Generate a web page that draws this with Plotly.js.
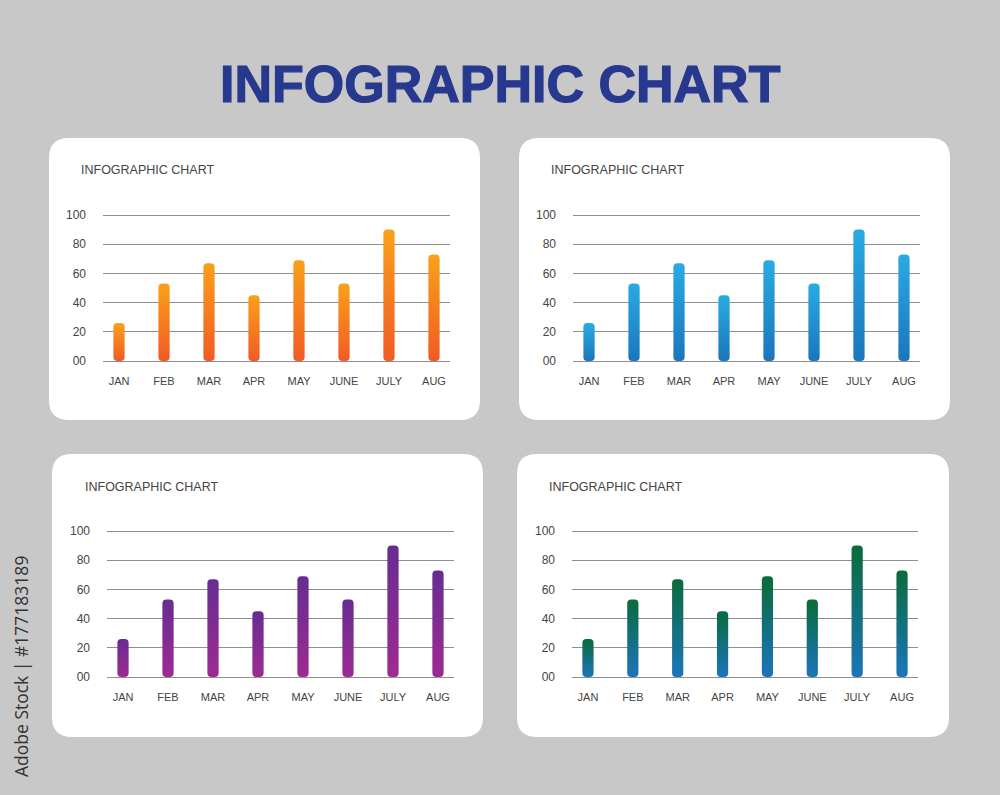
<!DOCTYPE html>
<html>
<head>
<meta charset="utf-8">
<script src="https://cdn.plot.ly/plotly-3.0.1.min.js"></script>
<style>
  html, body { margin: 0; padding: 0; background: #c8c8c8; }
  #chart { width: 1000px; height: 795px; }
</style>
</head>
<body>
<div id="chart"></div>
<script>
// data (all four panels show the same values)
const months = ['JAN', 'FEB', 'MAR', 'APR', 'MAY', 'JUNE', 'JULY', 'AUG'];
const orangeValues = [26, 53, 67, 45, 69, 53, 90, 73];
const blueValues = [26, 53, 67, 45, 69, 53, 90, 73];
const purpleValues = [26, 53, 67, 45, 69, 53, 90, 73];
const greenValues = [26, 53, 67, 45, 69, 53, 90, 73];
const yTickVals = [0, 20, 40, 60, 80, 100];
const yTickText = ['00', '20', '40', '60', '80', '100'];

const W = 1000, H = 795;
const px = v => v / W;
const py = v => 1 - v / H;

// panel boxes, plot areas (y=100 line to y=0 line) and gradient colours (top, bottom)
const panels = [
  { values: orangeValues, box: [49, 138, 480, 420], plot: [103, 215, 450, 361], title: [79, 170], colors: ['#f9a11b', '#f15a24'] },
  { values: blueValues, box: [519, 138, 950, 420], plot: [573, 215, 920, 361], title: [549, 170], colors: ['#29abe2', '#1b75bc'] },
  { values: purpleValues, box: [52, 454, 483, 737], plot: [107, 531, 454, 677], title: [83, 487], colors: ['#662d91', '#9e2a92'] },
  { values: greenValues, box: [517, 454, 949, 737], plot: [572, 531, 918, 677], title: [547, 487], colors: ['#0a6b3a', '#1c75bc'] }
];

function roundRect(x0, y0, x1, y1, r) {
  const rx = r / W, ry = r / H;
  const a = px(x0), b = px(x1), t = py(y0), u = py(y1);
  return 'M' + (a + rx) + ',' + t + ' L' + (b - rx) + ',' + t +
    ' Q' + b + ',' + t + ' ' + b + ',' + (t - ry) +
    ' L' + b + ',' + (u + ry) + ' Q' + b + ',' + u + ' ' + (b - rx) + ',' + u +
    ' L' + (a + rx) + ',' + u + ' Q' + a + ',' + u + ' ' + a + ',' + (u + ry) +
    ' L' + a + ',' + (t - ry) + ' Q' + a + ',' + t + ' ' + (a + rx) + ',' + t + ' Z';
}

var data = [];
var layout = {
  width: W,
  height: H,
  margin: { l: 0, r: 0, t: 0, b: 0 },
  paper_bgcolor: '#c8c8c8',
  plot_bgcolor: 'rgba(0,0,0,0)',
  showlegend: false,
  font: { family: 'Liberation Sans, Arial, sans-serif', color: '#444' },
  shapes: [],
  annotations: [
    {
      text: '<b>INFOGRAPHIC CHART</b>',
      xref: 'paper', yref: 'paper', x: 0.5, y: py(84),
      xanchor: 'center', yanchor: 'middle', showarrow: false,
      font: { family: 'Liberation Sans, Arial, sans-serif', size: 52, color: '#27388f' }
    },
    {
      text: 'Adobe Stock | #177183189',
      xref: 'paper', yref: 'paper', x: px(21), y: py(667),
      xanchor: 'center', yanchor: 'middle', showarrow: false, textangle: -90,
      font: { family: 'Open Sans, sans-serif', size: 17.5, color: '#333' }
    }
  ]
};

panels.forEach((p, i) => {
  const n = i === 0 ? '' : String(i + 1);
  const unit = (p.plot[3] - p.plot[1]) / 100;
  data.push({
    type: 'bar',
    x: months,
    y: p.values,
    xaxis: 'x' + n,
    yaxis: 'y' + n,
    width: 0.25,
    marker: { color: p.colors[1], line: { width: 0 } },
    cliponaxis: false,
    hoverinfo: 'x+y'
  });
  layout['xaxis' + n] = {
    domain: [px(p.plot[0]), px(p.plot[2])],
    anchor: 'y' + n,
    type: 'category',
    range: [-0.356, 7.356],
    showgrid: false,
    zeroline: false,
    showline: false,
    ticks: '',
    ticklabelstandoff: 11,
    tickfont: { size: 11, color: '#444' },
    fixedrange: true
  };
  // range padded by 1 so that the 0 and 100 grid lines are drawn
  layout['yaxis' + n] = {
    domain: [py(p.plot[3] + unit), py(p.plot[1] - unit)],
    anchor: 'x' + n,
    range: [-1, 101],
    tickvals: yTickVals,
    ticktext: yTickText,
    showgrid: true,
    gridcolor: '#8e8e8e',
    gridwidth: 1,
    zeroline: false,
    showline: false,
    ticks: '',
    ticklabelstandoff: 16,
    tickfont: { size: 12, color: '#444' },
    fixedrange: true
  };
  layout.shapes.push({
    type: 'path', xref: 'paper', yref: 'paper', layer: 'below',
    path: roundRect(p.box[0], p.box[1], p.box[2], p.box[3], 20),
    fillcolor: '#ffffff', line: { width: 0 }
  });
  layout.annotations.push({
    text: 'INFOGRAPHIC CHART',
    xref: 'paper', yref: 'paper', x: px(p.title[0]), y: py(p.title[1]),
    xanchor: 'left', yanchor: 'middle', showarrow: false,
    font: { size: 12.5, color: '#444' }
  });
});

Plotly.newPlot('chart', data, layout, { displayModeBar: false, staticPlot: true }).then(gd => {
  const svg = gd.querySelector('.main-svg');
  const ns = 'http://www.w3.org/2000/svg';
  let defs = svg.querySelector('defs');

  // heavier main title
  const title = gd.querySelector('.annotation-text');
  if (title) {
    title.style.stroke = '#27388f';
    title.style.strokeWidth = '1.2px';
  }

  // vertical gradient fill and rounded ends for each bar
  panels.forEach((p, i) => {
    const id = 'barGrad' + i;
    const grad = document.createElementNS(ns, 'linearGradient');
    grad.setAttribute('id', id);
    grad.setAttribute('x1', '0'); grad.setAttribute('y1', '0');
    grad.setAttribute('x2', '0'); grad.setAttribute('y2', '1');
    [[0, p.colors[0]], [1, p.colors[1]]].forEach(s => {
      const stop = document.createElementNS(ns, 'stop');
      stop.setAttribute('offset', s[0]);
      stop.setAttribute('stop-color', s[1]);
      grad.appendChild(stop);
    });
    defs.appendChild(grad);
    const sp = i === 0 ? 'xy' : 'x' + (i + 1) + 'y' + (i + 1);
    const sub = gd.querySelector('.subplot.' + sp);
    if (!sub) return;
    sub.querySelectorAll('.barlayer .point path').forEach(path => {
      const b = path.getBBox();
      const x = b.x, y = b.y, w = b.width, h = b.height;
      const r = Math.min(4, w / 2, h / 2);
      path.setAttribute('d',
        'M' + (x + r) + ',' + y + 'H' + (x + w - r) +
        'Q' + (x + w) + ',' + y + ' ' + (x + w) + ',' + (y + r) +
        'V' + (y + h - r) +
        'Q' + (x + w) + ',' + (y + h) + ' ' + (x + w - r) + ',' + (y + h) +
        'H' + (x + r) +
        'Q' + x + ',' + (y + h) + ' ' + x + ',' + (y + h - r) +
        'V' + (y + r) +
        'Q' + x + ',' + y + ' ' + (x + r) + ',' + y + 'Z');
      path.style.fill = 'url(#' + id + ')';
    });
  });
});
</script>
</body>
</html>
